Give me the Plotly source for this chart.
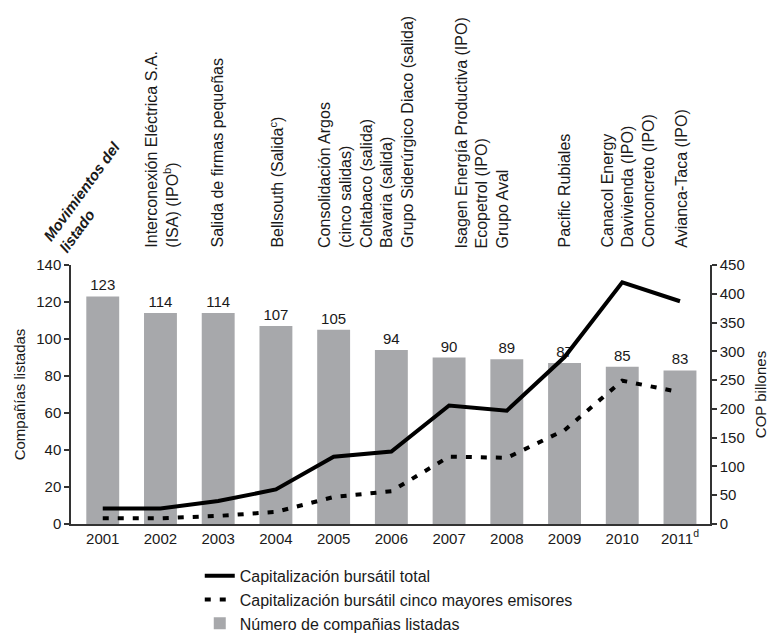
import plotly.graph_objects as go

# ---- data ----
years = ["2001", "2002", "2003", "2004", "2005", "2006", "2007", "2008", "2009", "2010", "2011"]
year_labels = ["2001", "2002", "2003", "2004", "2005", "2006", "2007", "2008", "2009", "2010", "2011<sup>d</sup>"]
companies = [123, 114, 114, 107, 105, 94, 90, 89, 87, 85, 83]
cap_total = [27, 27, 40, 60, 117, 126, 206, 197, 290, 420, 387]
cap_top5 = [10, 10, 14, 21, 47, 57, 117, 115, 163, 249, 229]

event_years = ["2002", "2003", "2004", "2005", "2007", "2009", "2010", "2011"]
event_texts = [
    "Interconexión Eléctrica S.A.<br>(ISA) (IPO<sup>b</sup>)",
    "Salida de firmas pequeñas",
    "Bellsouth (Salida<sup>c</sup>)",
    "Consolidación Argos<br>(cinco salidas)<br>Coltabaco (salida)<br>Bavaria (salida)<br>Grupo Siderúrgico Diaco (salida)",
    "Isagen Energía Productiva (IPO)<br>Ecopetrol (IPO)<br>Grupo Aval",
    "Pacific Rubiales",
    "Canacol Energy<br>Davivienda (IPO)<br>Conconcreto (IPO)",
    "Avianca-Taca (IPO)",
]
event_offsets = [0.03, -0.02, 0.02, 0.56, 0.57, 0.0, 0.1, 0.03]

FONT = "Liberation Sans, Arial, sans-serif"
TXT = "#1a1a1a"
BAR = "#a7a8ab"

fig = go.Figure()

fig.add_trace(go.Scatter(
    x=years, y=cap_total, yaxis="y2", mode="lines",
    name="Capitalización bursátil total",
    line=dict(color="black", width=4),
))
fig.add_trace(go.Scatter(
    x=years, y=cap_top5, yaxis="y2", mode="lines",
    name="Capitalización bursátil cinco mayores emisores",
    line=dict(color="black", width=4, dash="6px,9px"),
))
fig.add_trace(go.Bar(
    x=years, y=companies, name="Número de compañias listadas",
    marker=dict(color=BAR, line=dict(width=0)),
    width=0.57,
    text=[str(v) for v in companies], textposition="outside",
    textfont=dict(size=15, color=TXT, family=FONT),
    cliponaxis=False,
))

annotations = []
for yr, txt, off in zip(event_years, event_texts, event_offsets):
    annotations.append(dict(
        x=years.index(yr) + off, xref="x",
        y=1.058, yref="paper",
        text=txt, textangle=-90, showarrow=False,
        xanchor="center", yanchor="bottom", align="left",
        font=dict(size=16, color=TXT, family=FONT),
    ))
annotations.append(dict(
    x=0.029, xref="paper", y=1.26, yref="paper",
    text="<b><i>Movimientos del<br>listado</i></b>", textangle=-54,
    showarrow=False, xanchor="center", yanchor="middle", align="left",
    font=dict(size=15, color=TXT, family=FONT),
))

fig.update_layout(
    width=772, height=635,
    margin=dict(l=71, r=62, t=265, b=111, autoexpand=False),
    paper_bgcolor="white", plot_bgcolor="white",
    font=dict(family=FONT, size=15, color=TXT),
    showlegend=True,
    legend=dict(
        x=0.2015, xanchor="left", xref="paper",
        y=0.120, yanchor="top", yref="container",
        font=dict(size=16, color=TXT, family=FONT),
        traceorder="normal", tracegroupgap=0,
        bgcolor="rgba(0,0,0,0)", itemwidth=30,
    ),
    xaxis=dict(
        type="category", categoryorder="array", categoryarray=years,
        tickvals=years, ticktext=year_labels,
        range=[-0.55, 10.52], automargin=False,
        showline=True, linecolor="#333", linewidth=1.5,
        ticks="", showgrid=False, zeroline=False,
        tickfont=dict(size=15, color=TXT),
    ),
    yaxis=dict(
        range=[0, 140], dtick=20, automargin=False,
        showline=True, linecolor="#333", linewidth=1.5,
        ticks="outside", ticklen=5, tickcolor="#333", tickwidth=1.5,
        showgrid=False, zeroline=False,
        tickfont=dict(size=15, color=TXT),
        title=dict(text="Compañías listadas", font=dict(size=15, color=TXT), standoff=7),
    ),
    yaxis2=dict(
        range=[0, 450], dtick=50, overlaying="y", side="right", automargin=False,
        showline=True, linecolor="#333", linewidth=1.5,
        ticks="outside", ticklen=5, tickcolor="#333", tickwidth=1.5,
        showgrid=False, zeroline=False,
        tickfont=dict(size=15, color=TXT),
        title=dict(text="COP billones", font=dict(size=15, color=TXT), standoff=12),
    ),
    annotations=annotations,
)

fig.write_html("out.html", config={"displayModeBar": False},
               post_script="document.body.style.margin='0px';")
